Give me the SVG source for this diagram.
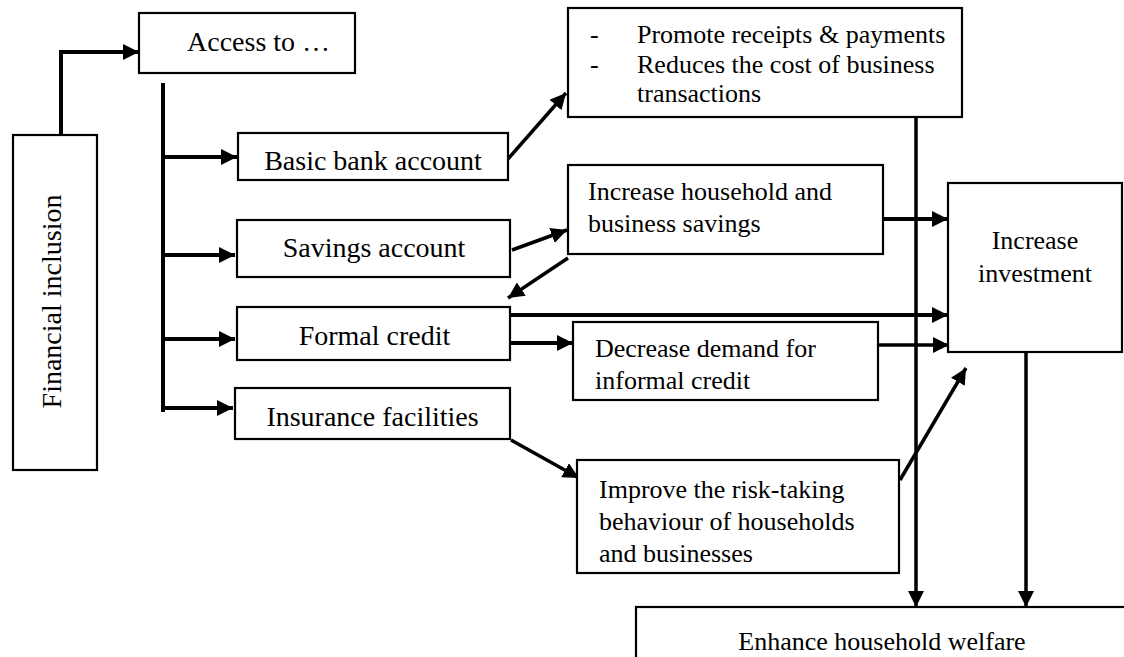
<svg xmlns="http://www.w3.org/2000/svg" width="1124" height="657" viewBox="0 0 1124 657">
<style>
.box{fill:#fff;stroke:#000;stroke-width:2.2}
.t{font-family:"Liberation Serif","Times New Roman",serif;fill:#000}
.l{font-size:28px}
.r{font-size:26px}
.c{stroke:#000;stroke-width:4;fill:none}
.m{stroke:#000;stroke-width:3.5;fill:none}
</style>
<defs>
<marker id="ah" markerUnits="userSpaceOnUse" markerWidth="16" markerHeight="16" refX="15" refY="7.5" orient="auto" viewBox="0 0 15 15">
<path d="M0,0 L15,7.5 L0,15 z" fill="#000"/>
</marker>
</defs>
<rect width="1124" height="657" fill="#fff"/>
<g id="connectors">
<polyline class="c" points="61,135 61,52 139,52" marker-end="url(#ah)"/>
<line class="c" x1="163" y1="83" x2="163" y2="412"/>
<line class="c" x1="161" y1="157" x2="237" y2="157" marker-end="url(#ah)"/>
<line class="c" x1="161" y1="255" x2="235" y2="255" marker-end="url(#ah)"/>
<line class="c" x1="161" y1="339" x2="235" y2="339" marker-end="url(#ah)"/>
<line class="c" x1="161" y1="408" x2="233" y2="408" marker-end="url(#ah)"/>
<line class="m" x1="507" y1="160" x2="566" y2="93" marker-end="url(#ah)"/>
<line class="m" x1="512" y1="250" x2="567" y2="230" marker-end="url(#ah)"/>
<line class="m" x1="568" y1="258" x2="508" y2="298" marker-end="url(#ah)"/>
<line class="c" x1="511" y1="315" x2="948" y2="315" marker-end="url(#ah)"/>
<line class="c" x1="883" y1="219" x2="948" y2="219" marker-end="url(#ah)"/>
<line class="c" x1="511" y1="343" x2="573" y2="343" marker-end="url(#ah)"/>
<line class="m" x1="878" y1="345" x2="949" y2="345" marker-end="url(#ah)"/>
<line class="m" x1="511" y1="440" x2="579" y2="478" marker-end="url(#ah)"/>
<line class="m" x1="900" y1="480" x2="966" y2="368" marker-end="url(#ah)"/>
<line class="m" x1="916" y1="117" x2="916" y2="607" marker-end="url(#ah)"/>
<line class="m" x1="1026" y1="352" x2="1026" y2="607" marker-end="url(#ah)"/>
</g>
<g id="financial-inclusion">
<rect class="box" x="13" y="135" width="84" height="335"/>
<text class="t l" text-anchor="middle" transform="translate(61,301.5) rotate(-90)">Financial inclusion</text>
</g>
<g id="access-to">
<rect class="box" x="139" y="13" width="216" height="60"/>
<text class="t l" x="187" y="51">Access to …</text>
</g>
<g id="basic-bank-account">
<rect class="box" x="238" y="133" width="270" height="47"/>
<text class="t l" x="373" y="170" text-anchor="middle">Basic bank account</text>
</g>
<g id="savings-account">
<rect class="box" x="237" y="220" width="273" height="57"/>
<text class="t l" x="374" y="257" text-anchor="middle">Savings account</text>
</g>
<g id="formal-credit">
<rect class="box" x="237" y="307" width="273" height="53"/>
<text class="t l" x="374.5" y="345" text-anchor="middle">Formal credit</text>
</g>
<g id="insurance-facilities">
<rect class="box" x="235" y="388" width="275" height="51"/>
<text class="t l" x="372.5" y="426" text-anchor="middle">Insurance facilities</text>
</g>
<g id="promote">
<rect class="box" x="568" y="8" width="394" height="109"/>
<text class="t r" x="590" y="43">-</text>
<text class="t r" x="637" y="43">Promote receipts &amp; payments</text>
<text class="t r" x="590" y="73">-</text>
<text class="t r" x="637" y="73">Reduces the cost of business</text>
<text class="t r" x="637" y="102">transactions</text>
</g>
<g id="increase-savings">
<rect class="box" x="568" y="165" width="315" height="89"/>
<text class="t r" x="588" y="200">Increase household and</text>
<text class="t r" x="588" y="232">business savings</text>
</g>
<g id="increase-investment">
<rect class="box" x="948" y="183" width="174" height="169"/>
<text class="t r" x="1035" y="249" text-anchor="middle">Increase</text>
<text class="t r" x="1035" y="282" text-anchor="middle">investment</text>
</g>
<g id="decrease-demand">
<rect class="box" x="573" y="322" width="305" height="78"/>
<text class="t r" x="595" y="357">Decrease demand for</text>
<text class="t r" x="595" y="389">informal credit</text>
</g>
<g id="improve-risk">
<rect class="box" x="577" y="460" width="322" height="113"/>
<text class="t r" x="599" y="498">Improve the risk-taking</text>
<text class="t r" x="599" y="530">behaviour of households</text>
<text class="t r" x="599" y="562">and businesses</text>
</g>
<g id="enhance-welfare">
<rect class="box" x="636" y="607" width="500" height="60"/>
<text class="t r" x="882" y="650" text-anchor="middle">Enhance household welfare</text>
</g>
</svg>
